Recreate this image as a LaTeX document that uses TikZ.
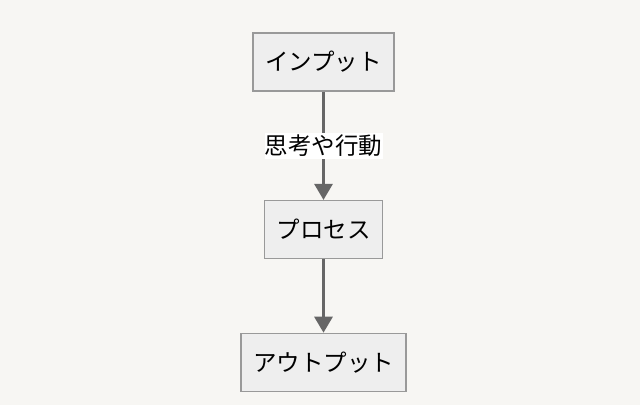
\documentclass[tikz,border=0pt]{standalone}
\usepackage{fontspec}
\setmainfont{Noto Sans CJK JP}
\usetikzlibrary{arrows.meta}
\definecolor{bg}{HTML}{F7F6F3}
\definecolor{boxfill}{HTML}{EEEEEE}
\definecolor{boxline}{HTML}{999999}
\definecolor{edge}{HTML}{666666}
\begin{document}
\begin{tikzpicture}[x=1pt,y=-1pt,
  box/.style={draw=boxline,fill=boxfill,line width=1.2pt,minimum height=58pt,inner sep=0pt,font=\fontsize{23.5}{28}\selectfont,text=black},
  conn/.style={draw=edge,line width=3pt,-{Triangle[length=16pt,width=18pt]}},
  lbl/.style={fill=white,inner sep=0pt,minimum height=26.5pt,minimum width=118pt,font=\fontsize{23.5}{28}\selectfont,text=black}]
\fill[bg] (0,0) rectangle (640,405);
\useasboundingbox (0,0) rectangle (640,405);
\node[box,minimum width=141pt] (a) at (323.5,62) {インプット};
\node[box,minimum width=118pt] (b) at (323.5,229.5) {プロセス};
\node[box,minimum width=165pt] (c) at (323.5,362.3) {アウトプット};
\draw[conn] (a) -- (b);
\node[lbl] (lab) at (323.5,146) {思考や行動};
\draw[conn] (b) -- (c);
\end{tikzpicture}
\end{document}
